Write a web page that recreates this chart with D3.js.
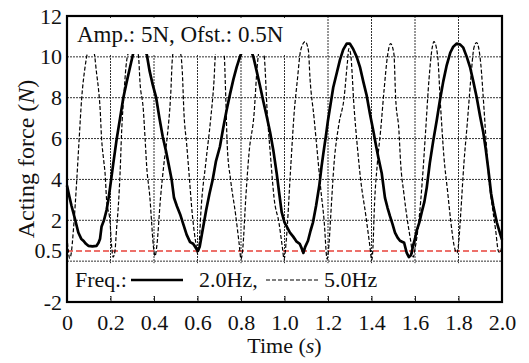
<!DOCTYPE html>
<html>
<head>
<meta charset="utf-8">
<script src="https://cdn.jsdelivr.net/npm/d3@7"></script>
<style>
  body { margin: 0; background: #fff; }
  text { font-family: "Liberation Serif", "Times New Roman", serif; fill: #111; }
</style>
</head>
<body>
<svg id="chart" width="529" height="363"></svg>
<script>
// axis ticks
const timeTicks = [0, 0.2, 0.4, 0.6, 0.8, 1.0, 1.2, 1.4, 1.6, 1.8, 2.0];
const forceTicks = [-2, 0.5, 2, 4, 6, 8, 10, 12];
const forceGrid = [0, 2, 4, 6, 8, 10];
const offsetForce = 0.5;

// [time (s), force (N)]
const force2Hz = [
  [0.000, 3.7], [0.010, 3.2], [0.021, 2.7], [0.037, 2.05], [0.052, 1.4], [0.065, 1.1], [0.075, 1.0],
  [0.087, 0.85], [0.098, 0.75], [0.117, 0.72], [0.136, 0.75], [0.145, 0.9], [0.152, 1.1], [0.159, 1.7],
  [0.170, 2.0], [0.182, 2.5], [0.190, 3.0], [0.198, 3.6], [0.213, 4.8], [0.228, 5.95], [0.244, 7.0],
  [0.259, 8.0], [0.275, 8.8], [0.290, 9.5], [0.305, 10.2], [0.320, 10.55], [0.336, 10.6], [0.352, 10.45],
  [0.367, 10.1], [0.380, 9.3], [0.395, 8.6], [0.410, 8.0], [0.425, 7.0], [0.440, 6.1], [0.455, 5.4],
  [0.468, 4.7], [0.481, 4.0], [0.492, 3.1], [0.505, 2.7], [0.520, 2.3], [0.535, 1.8], [0.550, 1.3],
  [0.566, 0.93], [0.580, 0.85], [0.592, 0.65], [0.602, 0.5], [0.610, 0.7], [0.620, 1.3], [0.630, 1.9],
  [0.640, 2.5], [0.655, 3.3], [0.670, 4.0], [0.685, 4.9], [0.703, 5.6], [0.718, 6.5], [0.734, 7.4],
  [0.750, 8.2], [0.765, 8.9], [0.780, 9.5], [0.795, 10.0], [0.812, 10.45], [0.828, 10.6], [0.843, 10.4],
  [0.857, 10.0], [0.872, 9.3], [0.887, 8.6], [0.903, 7.8], [0.918, 7.1], [0.934, 6.3], [0.949, 5.4],
  [0.964, 4.3], [0.976, 3.3], [0.987, 2.4], [1.000, 1.9], [1.010, 1.7], [1.025, 1.4], [1.040, 1.2],
  [1.056, 0.95], [1.070, 0.85], [1.080, 0.6], [1.087, 0.4], [1.095, 0.7], [1.108, 1.0], [1.120, 1.5],
  [1.131, 1.9], [1.145, 2.7], [1.160, 3.7], [1.170, 4.6], [1.179, 5.3], [1.190, 6.1], [1.200, 6.9],
  [1.212, 7.7], [1.224, 8.5], [1.240, 9.2], [1.255, 9.85], [1.270, 10.35], [1.286, 10.65], [1.300, 10.65],
  [1.315, 10.4], [1.332, 10.0], [1.347, 9.5], [1.362, 8.8], [1.378, 8.1], [1.393, 7.2], [1.408, 6.4],
  [1.420, 5.7], [1.431, 5.1], [1.447, 4.3], [1.462, 3.1], [1.474, 2.6], [1.485, 2.2], [1.497, 1.8],
  [1.508, 1.4], [1.520, 1.15], [1.531, 1.0], [1.550, 0.9], [1.562, 0.4], [1.572, 0.2], [1.582, 0.3],
  [1.591, 0.75], [1.600, 1.1], [1.608, 1.5], [1.620, 1.9], [1.631, 2.4], [1.643, 2.9], [1.654, 3.6],
  [1.668, 4.8], [1.684, 5.9], [1.700, 6.9], [1.715, 7.9], [1.730, 8.8], [1.746, 9.6], [1.762, 10.2],
  [1.776, 10.5], [1.792, 10.65], [1.808, 10.6], [1.822, 10.45], [1.838, 10.0], [1.853, 9.5], [1.868, 8.8],
  [1.884, 8.0], [1.899, 7.1], [1.914, 6.3], [1.925, 5.5], [1.937, 4.5], [1.950, 3.3], [1.960, 2.7],
  [1.976, 1.9], [1.990, 1.4], [2.000, 1.05]
];

const force5Hz = [
  [0.000, 1.2], [0.006, 0.5], [0.012, 0.15], [0.018, 0.3], [0.030, 1.6], [0.045, 4.0], [0.056, 6.0],
  [0.067, 7.9], [0.083, 9.5], [0.094, 10.2], [0.110, 10.6], [0.125, 10.2], [0.136, 9.2], [0.145, 8.4],
  [0.152, 7.5], [0.159, 6.0], [0.168, 5.0], [0.175, 4.3], [0.182, 3.0], [0.198, 1.9], [0.205, 0.75],
  [0.212, 0.2], [0.220, 0.45], [0.228, 1.6], [0.236, 2.7], [0.244, 4.3], [0.251, 6.3], [0.262, 8.2],
  [0.271, 9.5], [0.282, 10.2], [0.305, 10.6], [0.328, 10.1], [0.336, 8.7], [0.351, 7.4], [0.359, 6.0],
  [0.366, 4.7], [0.382, 3.0], [0.389, 1.9], [0.397, 0.75], [0.405, 0.25], [0.413, 0.75], [0.430, 3.1],
  [0.446, 4.8], [0.461, 6.1], [0.476, 8.0], [0.486, 10.1], [0.505, 10.6], [0.522, 10.2], [0.530, 9.3],
  [0.538, 7.2], [0.550, 5.75], [0.561, 4.3], [0.576, 2.3], [0.592, 0.9], [0.601, 0.35], [0.608, 0.9],
  [0.615, 2.3], [0.638, 4.8], [0.660, 6.9], [0.676, 8.85], [0.683, 10.2], [0.700, 10.6], [0.722, 10.2],
  [0.730, 8.0], [0.737, 5.6], [0.752, 4.0], [0.775, 2.3], [0.791, 0.9], [0.800, 0.1], [0.808, 0.6],
  [0.822, 3.1], [0.837, 5.3], [0.860, 7.2], [0.875, 9.6], [0.890, 10.6], [0.906, 10.1], [0.921, 7.2],
  [0.936, 5.1], [0.952, 3.1], [0.975, 1.85], [0.990, 0.7], [0.998, 0.1], [1.008, 1.0], [1.028, 4.5],
  [1.044, 7.2], [1.059, 8.85], [1.074, 10.3], [1.095, 10.75], [1.110, 10.3], [1.117, 9.0], [1.136, 7.0],
  [1.151, 5.3], [1.166, 3.6], [1.182, 2.0], [1.196, 0.1], [1.205, 0.9], [1.213, 2.3], [1.228, 4.8],
  [1.250, 6.7], [1.274, 8.0], [1.289, 9.7], [1.296, 10.4], [1.304, 10.15], [1.320, 7.5], [1.335, 5.6],
  [1.350, 4.0], [1.373, 2.3], [1.393, 0.7], [1.401, 0.05], [1.408, 1.0], [1.412, 2.3], [1.427, 4.8],
  [1.442, 6.4], [1.458, 8.4], [1.473, 10.0], [1.488, 10.65], [1.503, 10.15], [1.511, 8.0], [1.526, 6.4],
  [1.534, 4.8], [1.549, 3.3], [1.565, 2.0], [1.580, 1.0], [1.592, 0.2], [1.600, 0.6], [1.618, 2.0],
  [1.634, 4.0], [1.649, 6.4], [1.664, 8.85], [1.680, 10.5], [1.687, 10.75], [1.703, 10.15], [1.718, 7.5],
  [1.733, 5.1], [1.749, 3.5], [1.764, 2.0], [1.779, 0.8], [1.793, 0.4], [1.800, 0.8], [1.810, 2.3],
  [1.825, 4.8], [1.840, 6.7], [1.856, 8.85], [1.871, 10.45], [1.883, 10.7], [1.902, 9.7], [1.917, 7.5],
  [1.925, 6.2], [1.940, 4.0], [1.955, 2.7], [1.971, 1.5], [1.983, 0.5], [1.992, 0.4], [2.000, 0.9]
];

const width = 529, height = 363;
const margin = {top: 16, right: 27, bottom: 61, left: 67};

const svg = d3.select("#chart");

const x = d3.scaleLinear().domain([0, 2]).range([margin.left, width - margin.right]);
const y = d3.scaleLinear().domain([-2, 12]).range([height - margin.bottom, margin.top]);

// grid
svg.append("g")
  .selectAll("line")
  .data(timeTicks.slice(1, -1))
  .join("line")
  .attr("x1", d => x(d)).attr("x2", d => x(d))
  .attr("y1", y(12)).attr("y2", y(-2))
  .attr("stroke", "#333").attr("stroke-width", 1).attr("stroke-dasharray", "2,1");

svg.append("g")
  .selectAll("line")
  .data(forceGrid)
  .join("line")
  .attr("x1", x(0)).attr("x2", x(2))
  .attr("y1", d => y(d)).attr("y2", d => y(d))
  .attr("stroke", "#333").attr("stroke-width", 1).attr("stroke-dasharray", "2,1");

// offset line
svg.append("line")
  .attr("x1", x(0)).attr("x2", x(2))
  .attr("y1", y(offsetForce)).attr("y2", y(offsetForce))
  .attr("stroke", "#e8423a").attr("stroke-width", 1.5).attr("stroke-dasharray", "6,3");

const line = d3.line().x(d => x(d[0])).y(d => y(d[1]));

svg.append("path")
  .datum(force5Hz)
  .attr("d", line.curve(d3.curveMonotoneX))
  .attr("fill", "none").attr("stroke", "#000").attr("stroke-width", 1.2)
  .attr("stroke-dasharray", "4,2");

svg.append("path")
  .datum(force2Hz)
  .attr("d", line.curve(d3.curveLinear))
  .attr("fill", "none").attr("stroke", "#000").attr("stroke-width", 2.7)
  .attr("stroke-linejoin", "round");

// white boxes behind the notes
svg.append("rect").attr("x", 73).attr("y", 19).attr("width", 222).attr("height", 35).attr("fill", "#fff");
svg.append("rect").attr("x", x(0) + 2).attr("y", y(0) + 2)
  .attr("width", x(2) - x(0) - 4).attr("height", y(-2) - y(0) - 8).attr("fill", "#fff");

// axes
const xAxis = d3.axisBottom(x)
  .tickValues(timeTicks)
  .tickFormat(d => d === 0 ? "0" : d.toFixed(1))
  .tickSizeInner(-6).tickSizeOuter(0).tickPadding(12);

const gx = svg.append("g").attr("transform", `translate(0,${y(-2)})`).call(xAxis);
gx.select(".domain").remove();
gx.selectAll("line").attr("stroke", "#222");
gx.selectAll("text").attr("font-size", 22).attr("font-family", "Liberation Serif");

const yAxis = d3.axisLeft(y)
  .tickValues(forceTicks)
  .tickFormat(d => d === 0.5 ? "0.5" : String(d))
  .tickSize(0).tickPadding(5);

const gy = svg.append("g").attr("transform", `translate(${x(0)},0)`).call(yAxis);
gy.select(".domain").remove();
gy.selectAll("text").attr("font-size", 22).attr("font-family", "Liberation Serif");

// frame
svg.append("rect")
  .attr("x", x(0)).attr("y", y(12))
  .attr("width", x(2) - x(0)).attr("height", y(-2) - y(12))
  .attr("fill", "none").attr("stroke", "#000").attr("stroke-width", 2.2);

// notes
svg.append("text").attr("x", 77).attr("y", 42).attr("font-size", 23)
  .text("Amp.: 5N, Ofst.: 0.5N");

const legY = 287;
svg.append("text").attr("x", 75).attr("y", legY).attr("font-size", 22).text("Freq.:");
svg.append("line").attr("x1", 131).attr("x2", 183).attr("y1", legY - 7).attr("y2", legY - 7)
  .attr("stroke", "#000").attr("stroke-width", 2.7);
svg.append("text").attr("x", 199).attr("y", legY).attr("font-size", 22).text("2.0Hz,");
svg.append("line").attr("x1", 266).attr("x2", 318).attr("y1", legY - 7).attr("y2", legY - 7)
  .attr("stroke", "#000").attr("stroke-width", 1.2).attr("stroke-dasharray", "4,2");
svg.append("text").attr("x", 324).attr("y", legY).attr("font-size", 22).text("5.0Hz");

// axis titles
const xt = svg.append("text").attr("x", (x(0) + x(2)) / 2).attr("y", 353)
  .attr("text-anchor", "middle").attr("font-size", 22);
xt.append("tspan").text("Time (");
xt.append("tspan").attr("font-style", "italic").text("s");
xt.append("tspan").text(")");

const yt = svg.append("text")
  .attr("transform", `translate(34,${(y(12) + y(-2)) / 2}) rotate(-90)`)
  .attr("text-anchor", "middle").attr("font-size", 24);
yt.append("tspan").text("Acting force (");
yt.append("tspan").attr("font-style", "italic").text("N");
yt.append("tspan").text(")");
</script>
</body>
</html>
